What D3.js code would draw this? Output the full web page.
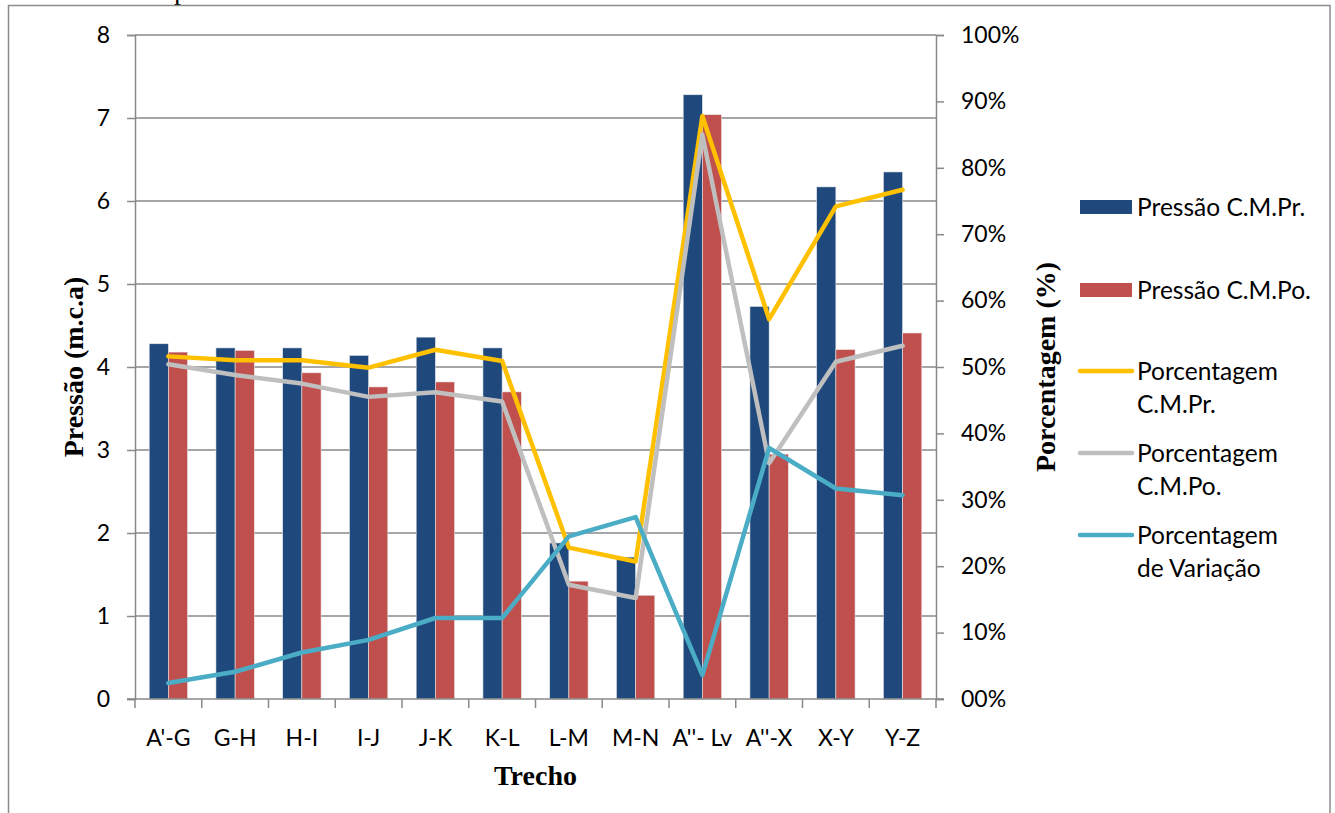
<!DOCTYPE html>
<html>
<head>
<meta charset="utf-8">
<script src="https://cdn.jsdelivr.net/npm/d3@7"></script>
<style>
  html, body { margin: 0; padding: 0; background: #fff; }
  svg { display: block; }
  .tick-label { font-family: Lato, "Open Sans", sans-serif; font-size: 23px; fill: #000; }
  .axis-title { font-family: "Liberation Serif", "Times New Roman", serif; font-weight: bold; font-size: 28px; fill: #000; }
  .legend-label { font-family: Lato, "Open Sans", sans-serif; font-size: 24.5px; fill: #000; }
</style>
</head>
<body>
<script>
// Sections of the network
const categories = ["A'-G", "G-H", "H-I", "I-J", "J-K", "K-L", "L-M", "M-N", "A''- Lv", "A''-X", "X-Y", "Y-Z"];

// Pressures (m.c.a)
const pressaoCMPr = [4.28, 4.23, 4.23, 4.14, 4.36, 4.23, 1.88, 1.71, 7.28, 4.73, 6.17, 6.35];
const pressaoCMPo = [4.18, 4.20, 3.93, 3.76, 3.82, 3.70, 1.42, 1.25, 7.04, 2.95, 4.21, 4.41];

// Percentages (%)
const porcentCMPr = [51.6, 51.0, 51.0, 49.9, 52.6, 50.9, 22.8, 20.7, 87.8, 57.2, 74.2, 76.7];
const porcentCMPo = [50.4, 48.8, 47.5, 45.5, 46.2, 44.8, 17.2, 15.2, 85.0, 35.5, 50.8, 53.2];
const porcentVariacao = [2.4, 4.1, 7.0, 8.9, 12.2, 12.2, 24.5, 27.4, 3.6, 37.8, 31.7, 30.7];

const leftTicks = [0, 1, 2, 3, 4, 5, 6, 7, 8];
const rightTicks = [0, 10, 20, 30, 40, 50, 60, 70, 80, 90, 100];
const rightTickLabels = ["00%", "10%", "20%", "30%", "40%", "50%", "60%", "70%", "80%", "90%", "100%"];

const barSeries = [
  { name: "Pressão C.M.Pr.", values: pressaoCMPr, color: "#1F497D" },
  { name: "Pressão C.M.Po.", values: pressaoCMPo, color: "#C0504D" }
];
const lineSeries = [
  { name: ["Porcentagem", "C.M.Pr."], values: porcentCMPr, color: "#FFC000" },
  { name: ["Porcentagem", "C.M.Po."], values: porcentCMPo, color: "#BFBFBF" },
  { name: ["Porcentagem", "de Variação"], values: porcentVariacao, color: "#4BACC6" }
];

const W = 1335, H = 813;
const plot = { left: 135, right: 936, top: 35, bottom: 699 };

const svg = d3.select("body").append("svg").attr("width", W).attr("height", H);

// outer frame and the clipped caption line above it
svg.append("text").attr("class", "axis-title").style("font-weight", "normal")
  .attr("x", 174).attr("y", -1).text("p");
svg.append("rect").attr("x", 8.5).attr("y", 5.5).attr("width", 1321.5).attr("height", H)
  .attr("fill", "none").attr("stroke", "#8c8c8c").attr("stroke-width", 1.5);

const x = d3.scaleBand().domain(categories).range([plot.left, plot.right]).paddingInner(0).paddingOuter(0);
const yL = d3.scaleLinear().domain([0, 8]).range([plot.bottom, plot.top]);
const yR = d3.scaleLinear().domain([0, 100]).range([plot.bottom, plot.top]);

const groupW = x.bandwidth() * 0.575;
const xs = d3.scaleBand().domain(barSeries.map(d => d.name)).range([0, groupW]);
const gridColor = "#898989";

// horizontal gridlines on the pressure scale
svg.append("g").selectAll("line").data(leftTicks.filter(t => t > 0)).join("line")
  .attr("x1", plot.left).attr("x2", plot.right)
  .attr("y1", d => yL(d)).attr("y2", d => yL(d))
  .attr("stroke", gridColor).attr("stroke-width", 1.5);

// bars
const groups = svg.append("g").selectAll("g").data(categories).join("g")
  .attr("transform", d => `translate(${x(d) + (x.bandwidth() - groupW) / 2},0)`);
barSeries.forEach(s => {
  groups.append("rect")
    .attr("x", xs(s.name))
    .attr("width", xs.bandwidth())
    .attr("y", (d, i) => yL(s.values[i]))
    .attr("height", (d, i) => yL(0) - yL(s.values[i]))
    .attr("fill", s.color)
    .attr("stroke", "#e8e8e8").attr("stroke-width", 0.6);
});

// left axis
const leftAxis = d3.axisLeft(yL).tickValues(leftTicks).tickSize(8).tickPadding(17).tickFormat(d3.format("d"));
const gL = svg.append("g").attr("transform", `translate(${plot.left},0)`).call(leftAxis);
gL.select(".domain").attr("stroke", gridColor).attr("stroke-width", 1.5);
gL.selectAll(".tick line").attr("stroke", gridColor).attr("stroke-width", 1.5);
gL.selectAll(".tick text").attr("class", "tick-label").attr("font-family", null).attr("font-size", null);

// right axis
const rightAxis = d3.axisRight(yR).tickValues(rightTicks).tickSize(8).tickPadding(17)
  .tickFormat((d, i) => rightTickLabels[i]);
const gR = svg.append("g").attr("transform", `translate(${plot.right},0)`).call(rightAxis);
gR.select(".domain").attr("stroke", gridColor).attr("stroke-width", 1.5);
gR.selectAll(".tick line").attr("stroke", gridColor).attr("stroke-width", 1.5);
gR.selectAll(".tick text").attr("class", "tick-label").attr("font-family", null).attr("font-size", null);

// bottom axis with ticks at category boundaries
svg.append("line").attr("x1", plot.left - 8).attr("x2", plot.right + 8)
  .attr("y1", plot.bottom).attr("y2", plot.bottom).attr("stroke", gridColor).attr("stroke-width", 1.5);
const bounds = categories.map(c => x(c)).concat([plot.right]);
svg.append("g").selectAll("line").data(bounds).join("line")
  .attr("x1", d => d).attr("x2", d => d).attr("y1", plot.bottom).attr("y2", plot.bottom + 9)
  .attr("stroke", gridColor).attr("stroke-width", 1.5);
svg.append("g").selectAll("text").data(categories).join("text")
  .attr("class", "tick-label").attr("text-anchor", "middle")
  .attr("x", d => x(d) + x.bandwidth() / 2).attr("y", 746).text(d => d);

// percentage lines
const line = d3.line().x((d, i) => x(categories[i]) + x.bandwidth() / 2).y(d => yR(d));
lineSeries.forEach(s => {
  svg.append("path").datum(s.values).attr("d", line)
    .attr("fill", "none").attr("stroke", s.color).attr("stroke-width", 4.5)
    .attr("stroke-linejoin", "round").attr("stroke-linecap", "round");
});

// axis titles
svg.append("text").attr("class", "axis-title").attr("text-anchor", "middle")
  .attr("transform", `translate(83,${(plot.top + plot.bottom) / 2}) rotate(-90)`).text("Pressão (m.c.a)");
svg.append("text").attr("class", "axis-title").attr("text-anchor", "middle")
  .attr("transform", `translate(1055,${(plot.top + plot.bottom) / 2}) rotate(-90)`).text("Porcentagem (%)");
svg.append("text").attr("class", "axis-title").attr("text-anchor", "middle")
  .attr("x", (plot.left + plot.right) / 2).attr("y", 785).text("Trecho");

// legend
const lg = svg.append("g");
const barRows = [207, 290];
barSeries.forEach((s, i) => {
  lg.append("rect").attr("x", 1080).attr("y", barRows[i] - 7).attr("width", 52).attr("height", 14).attr("fill", s.color);
  lg.append("text").attr("class", "legend-label").attr("x", 1137).attr("y", barRows[i] + 9).text(s.name);
});
const lineRows = [371, 453, 535];
lineSeries.forEach((s, i) => {
  lg.append("line").attr("x1", 1080).attr("x2", 1132).attr("y1", lineRows[i]).attr("y2", lineRows[i])
    .attr("stroke", s.color).attr("stroke-width", 4.5).attr("stroke-linecap", "round");
  s.name.forEach((t, j) => {
    lg.append("text").attr("class", "legend-label").attr("x", 1137).attr("y", lineRows[i] + 9 + j * 33).text(t);
  });
});
</script>
</body>
</html>
